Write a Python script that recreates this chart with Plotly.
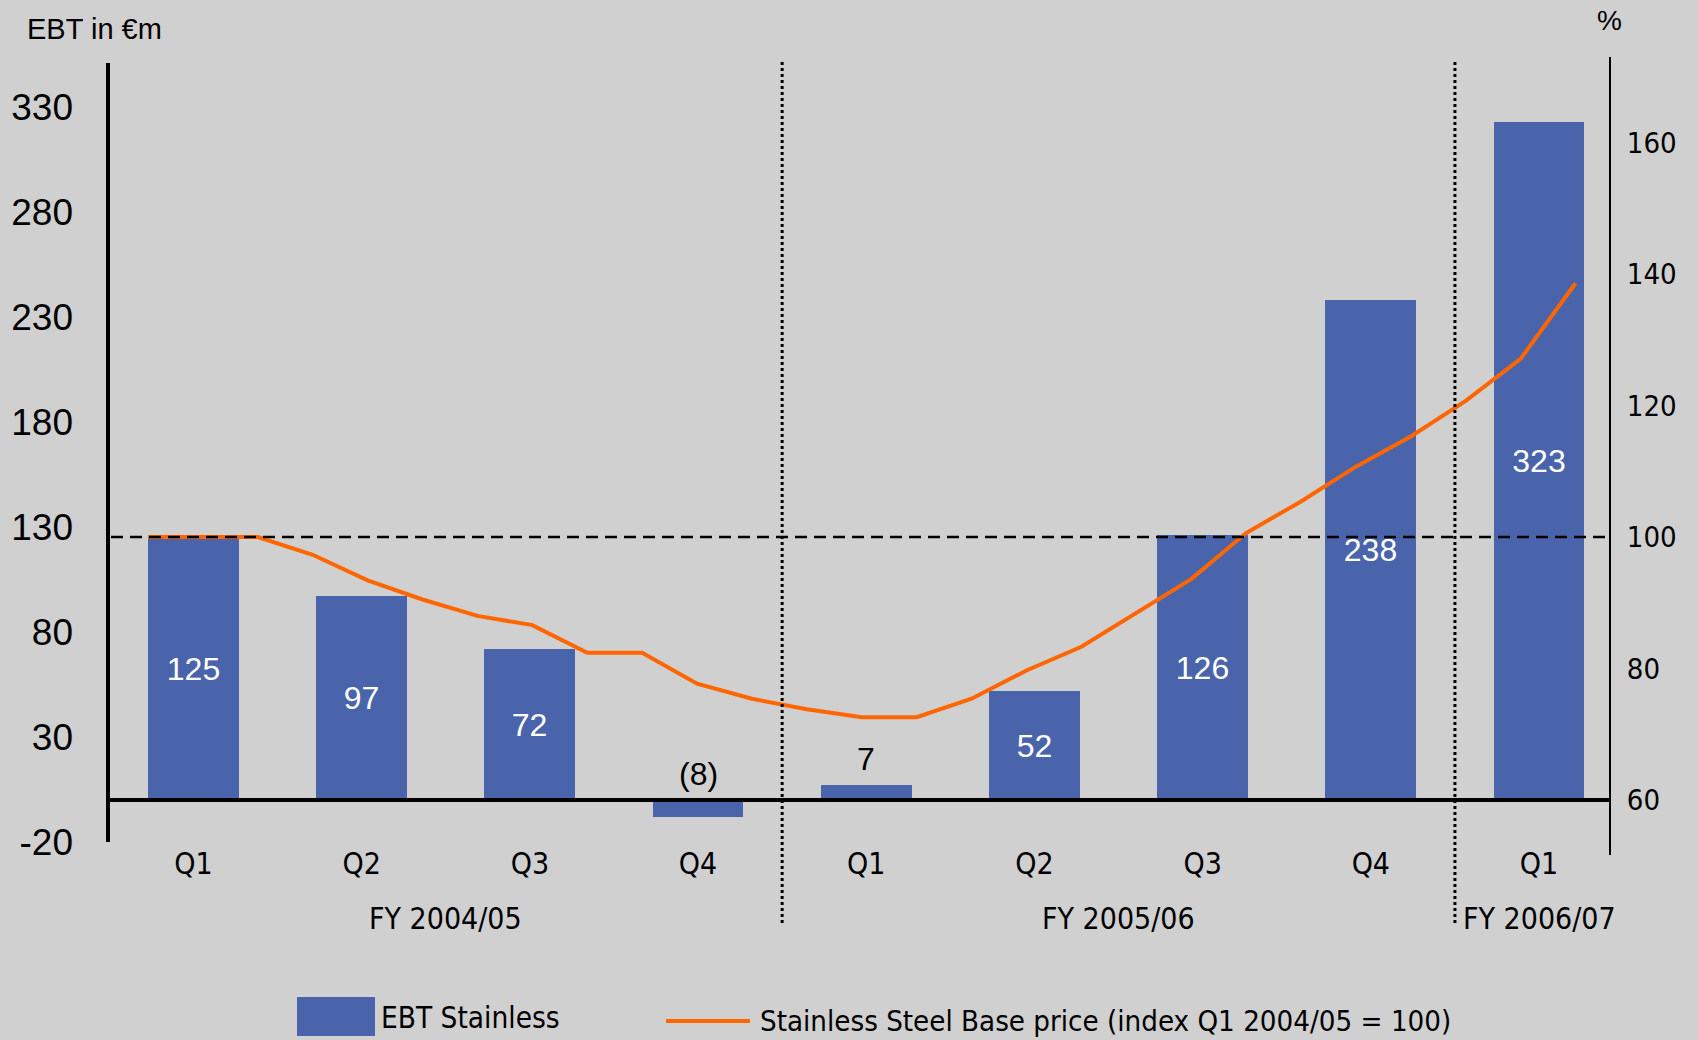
import plotly.graph_objects as go

# ---------------- data ----------------
quarters = ["Q1", "Q2", "Q3", "Q4", "Q1", "Q2", "Q3", "Q4", "Q1"]
fiscal_years = ["FY 2004/05", "FY 2004/05", "FY 2004/05", "FY 2004/05",
                "FY 2005/06", "FY 2005/06", "FY 2005/06", "FY 2005/06",
                "FY 2006/07"]
ebt_stainless = [125, 97, 72, -8, 7, 52, 126, 238, 323]

months = ["Oct 04", "Nov 04", "Dec 04", "Jan 05", "Feb 05", "Mar 05",
          "Apr 05", "May 05", "Jun 05", "Jul 05", "Aug 05", "Sep 05",
          "Oct 05", "Nov 05", "Dec 05", "Jan 06", "Feb 06", "Mar 06",
          "Apr 06", "May 06", "Jun 06", "Jul 06", "Aug 06", "Sep 06",
          "Oct 06", "Nov 06", "Dec 06"]
base_price_index = [100, 100, 100, 97.3, 93.4, 90.5, 88.0, 86.6, 82.4,
                    82.4, 77.7, 75.4, 73.8, 72.6, 72.6, 75.4, 79.7, 83.3,
                    88.4, 93.6, 100.6, 105.4, 110.7, 115.3, 120.7, 127.1, 138.6]

left_ticks = [-20, 30, 80, 130, 180, 230, 280, 330]
right_ticks = [60, 80, 100, 120, 140, 160]

bar_name = "EBT Stainless"
line_name = "Stainless Steel Base price (index Q1 2004/05 = 100)"
left_title = "EBT in €m"
right_title = "%"

# ---------------- styling / layout helpers ----------------
W, H = 1698, 1040
PL, PR, PT, PB = 108, 1609, 57, 855   # plot area in pixels
BG = "#D0D0D0"
BAR_COLOR = "#4A64AC"
LINE_COLOR = "#FF6600"
SANS = "Liberation Sans, Arial, sans-serif"
NARROW = "DejaVu Sans Condensed, Liberation Sans Narrow, Arial Narrow, sans-serif"


def px_x(p):
    return (p - PL) / (PR - PL)


def px_y(p):
    return (PB - p) / (PB - PT)


categories = [f"{q} {fy}" for q, fy in zip(quarters, fiscal_years)]


def fmt(v):
    return f"({abs(v)})" if v < 0 else f"{v}"


inside_text = [fmt(v) if abs(v) >= 30 else "" for v in ebt_stainless]

fig = go.Figure()
fig.add_trace(go.Bar(
    x=categories, y=ebt_stainless, name=bar_name,
    marker=dict(color=BAR_COLOR, line=dict(width=0)),
    width=0.54,
    text=inside_text, textposition="inside", insidetextanchor="middle",
    textfont=dict(family=SANS, size=32, color="white"),
    showlegend=False, hoverinfo="skip",
))
fig.add_trace(go.Scatter(
    x=months, y=base_price_index, name=line_name,
    mode="lines", line=dict(color=LINE_COLOR, width=4),
    xaxis="x2", yaxis="y2", showlegend=False, hoverinfo="skip",
))

annotations = []
# labels of small bars (outside, above zero / bar top)
for c, v in zip(categories, ebt_stainless):
    if abs(v) < 30:
        annotations.append(dict(
            x=c, y=max(v, 0), xref="x", yref="y", text=fmt(v),
            showarrow=False, yanchor="bottom", yshift=6,
            font=dict(family=SANS, size=32, color="black")))

# fiscal year group labels
groups = []
for i, fy in enumerate(fiscal_years):
    if not groups or groups[-1][0] != fy:
        groups.append([fy, []])
    groups[-1][1].append(i)
for fy, idx in groups:
    annotations.append(dict(
        x=sum(idx) / len(idx), y=px_y(918), xref="x", yref="paper",
        text=fy, showarrow=False, xanchor="center", yanchor="middle",
        font=dict(family=NARROW, size=30, color="black")))

# axis titles
annotations.append(dict(x=px_x(25), y=px_y(29), xref="paper", yref="paper",
                        text=left_title, showarrow=False, xanchor="left",
                        yanchor="middle",
                        font=dict(family=SANS, size=29, color="black")))
annotations.append(dict(x=px_x(1609), y=px_y(21), xref="paper", yref="paper",
                        text=right_title, showarrow=False, xanchor="center",
                        yanchor="middle",
                        font=dict(family=SANS, size=28, color="black")))

# legend texts
annotations.append(dict(x=px_x(379), y=px_y(1018), xref="paper", yref="paper",
                        text=bar_name, showarrow=False, xanchor="left",
                        yanchor="middle",
                        font=dict(family=NARROW, size=29.5, color="black")))
annotations.append(dict(x=px_x(758), y=px_y(1021), xref="paper", yref="paper",
                        text=line_name, showarrow=False, xanchor="left",
                        yanchor="middle",
                        font=dict(family=NARROW, size=29.2, color="black")))

shapes = [
    # left axis line
    dict(type="line", xref="paper", yref="y", x0=0, x1=0,
         y0=left_ticks[0], y1=351, line=dict(color="black", width=4),
         layer="above"),
    # zero line
    dict(type="line", xref="paper", yref="y", x0=0, x1=1, y0=0, y1=0,
         line=dict(color="black", width=4), layer="above"),
    # index = 100 reference line
    dict(type="line", xref="paper", yref="y2", x0=0.002, x1=1, y0=100, y1=100,
         line=dict(color="black", width=2.5, dash="12px,7px"), layer="above"),
    # legend swatches
    dict(type="rect", xref="paper", yref="paper",
         x0=px_x(297), x1=px_x(375), y0=px_y(1036), y1=px_y(997),
         fillcolor=BAR_COLOR, line=dict(width=0)),
    dict(type="line", xref="paper", yref="paper",
         x0=px_x(666), x1=px_x(750), y0=px_y(1021), y1=px_y(1021),
         line=dict(color=LINE_COLOR, width=4)),
]
# fiscal year separators
for k in range(1, len(groups)):
    sep = groups[k][1][0] - 0.5
    shapes.append(dict(type="line", xref="x", yref="paper", x0=sep, x1=sep,
                       y0=px_y(923), y1=px_y(59),
                       line=dict(color="black", width=3, dash="dot"),
                       layer="above"))

fig.update_layout(
    width=W, height=H,
    margin=dict(l=PL, r=W - PR, t=PT, b=H - PB, pad=0),
    paper_bgcolor=BG, plot_bgcolor=BG,
    showlegend=False,
    bargap=0,
    xaxis=dict(type="category", range=[-0.508, 8.416],
               tickmode="array", tickvals=categories, ticktext=quarters,
               showgrid=False, zeroline=False, showline=False, ticks="",
               ticklabelstandoff=-12,
               tickfont=dict(family=NARROW, size=30, color="black")),
    xaxis2=dict(type="category", overlaying="x", range=[-0.729, 26.61],
                visible=False, showgrid=False),
    yaxis=dict(range=[-26.2, 353.8], tickmode="array", tickvals=left_ticks,
               ticktext=[str(v) for v in left_ticks],
               showgrid=False, zeroline=False, showline=False, ticks="",
               ticklabelstandoff=34,
               tickfont=dict(family=SANS, size=37, color="black")),
    yaxis2=dict(range=[51.64, 173.0], overlaying="y", side="right",
                anchor="x2", tickmode="array", tickvals=right_ticks,
                showgrid=False, zeroline=False, showline=True,
                linecolor="black", linewidth=2, ticks="",
                ticklabelstandoff=10,
                tickfont=dict(family=NARROW, size=29, color="black")),
    shapes=shapes,
    annotations=annotations,
)

fig.write_html("out.html")
